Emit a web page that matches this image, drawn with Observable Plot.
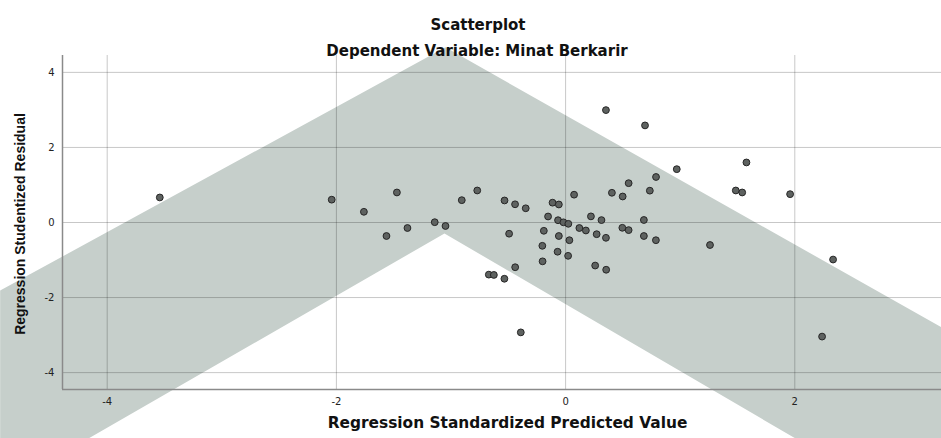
<!DOCTYPE html>
<html>
<head>
<meta charset="utf-8">
<script src="https://cdn.jsdelivr.net/npm/d3@7"></script>
<script src="https://cdn.jsdelivr.net/npm/@observablehq/plot@0.6"></script>
<style>
  html, body { margin: 0; padding: 0; background: #fff; }
  #chart { width: 941px; height: 438px; overflow: hidden; }
</style>
</head>
<body>
<div id="chart"></div>
<script>
// ---- data ----
const titleText = "Scatterplot";
const subtitleText = "Dependent Variable: Minat Berkarir";
const xLabel = "Regression Standardized Predicted Value";
const yLabel = "Regression Studentized Residual";

const xDomain = [-4.39, 3.28];
const yDomain = [-4.45, 4.45];
const xTicks = [-4, -2, 0, 2];
const yTicks = [-4, -2, 0, 2, 4];

// Regression Standardized Predicted Value
const predicted = [
  -3.541, -2.041, -1.760, -1.472, -1.563, -1.380, -1.142, -1.048, -0.906, -0.771,
  -0.533, -0.441, -0.348, -0.114, -0.059, 0.074, -0.153, -0.066, -0.019, 0.024,
  0.120, 0.177, -0.190, -0.493, -0.059, 0.033, -0.203, -0.070, 0.022, -0.201,
  -0.440, -0.670, -0.626, -0.534, 0.352, 0.693, 1.578, 0.970, 0.789, 0.550,
  0.735, 0.404, 0.498, 1.485, 1.541, 1.959, 0.221, 0.313, 0.683, 0.495,
  0.550, 0.271, 0.352, 0.683, 0.788, 0.258, 0.354, 1.260, -0.391, 2.334,
  2.238
];
// Regression Studentized Residual
const residual = [
  0.667, 0.608, 0.285, 0.800, -0.360, -0.147, 0.008, -0.093, 0.595, 0.853,
  0.587, 0.485, 0.379, 0.528, 0.480, 0.741, 0.160, 0.061, 0.005, -0.035,
  -0.147, -0.213, -0.221, -0.299, -0.360, -0.472, -0.621, -0.779, -0.888, -1.035,
  -1.192, -1.389, -1.397, -1.499, 2.995, 2.587, 1.600, 1.421, 1.213, 1.048,
  0.848, 0.792, 0.693, 0.853, 0.800, 0.755, 0.163, 0.064, 0.067, -0.141,
  -0.203, -0.312, -0.408, -0.360, -0.472, -1.147, -1.259, -0.600, -2.928, -0.987,
  -3.040
];

// grey chevron-shaped band behind the plot (in data units)
const bandX = [-4.934, -1.048, 3.284, 3.284, 2.009, -1.057, -4.166, -4.934];
const bandY = [-1.813, 4.667, -2.800, -5.760, -5.760, -0.293, -5.760, -5.760];

// ---- tables ----
const points = predicted.map((x, i) => ({x, y: residual[i]}));
const band = bandX.map((x, i) => ({x, y: bandY[i]}));

const bandColor = "#c6cfcb";
const fmt = d => String(d);

const chart = Plot.plot({
  width: 941,
  height: 438,
  marginLeft: 62,
  marginRight: 0,
  marginTop: 55,
  marginBottom: 49,
  x: {domain: xDomain},
  y: {domain: yDomain},
  style: {background: "#fff", fontFamily: "DejaVu Sans", overflow: "visible"},
  marks: [
    Plot.line(band, {x: "x", y: "y", fill: bandColor, stroke: "none", curve: "linear-closed"}),
    Plot.gridX(xTicks, {stroke: "#000", strokeOpacity: 0.22, strokeWidth: 1}),
    Plot.gridY(yTicks, {stroke: "#000", strokeOpacity: 0.22, strokeWidth: 1}),
    Plot.ruleX([xDomain[0]], {stroke: "#8a8a8a", strokeWidth: 1.5}),
    Plot.ruleY([yDomain[0]], {stroke: "#8a8a8a", strokeWidth: 1.5}),
    Plot.axisX(xTicks, {tickSize: 0, tickPadding: 8, fontSize: 10, fill: "#222", label: null, tickFormat: fmt}),
    Plot.axisY(yTicks, {tickSize: 0, tickPadding: 8, fontSize: 10, fill: "#222", label: null, tickFormat: fmt}),
    Plot.dot(points, {x: "x", y: "y", r: 3.4, fill: "#5e6260", stroke: "#262626", strokeWidth: 1}),
    Plot.text([titleText], {text: d => d, frameAnchor: "top", dx: -24, dy: -36.5,
      fontSize: 15, fontWeight: "bold", fill: "#111"}),
    Plot.text([subtitleText], {text: d => d, frameAnchor: "top", dx: -25, dy: -10.5,
      fontSize: 15, fontWeight: "bold", fill: "#111"}),
    Plot.text([xLabel], {text: d => d, frameAnchor: "bottom", dx: 5.5, dy: 38,
      fontSize: 15.4, fontWeight: "bold", fill: "#111"}),
    Plot.text([yLabel], {text: d => d, frameAnchor: "left", textAnchor: "middle", dx: -42, dy: 1.5, rotate: -90,
      fontSize: 14, fontWeight: "bold", fill: "#111", fontFamily: "Liberation Sans"})
  ]
});

document.getElementById("chart").appendChild(chart);
</script>
</body>
</html>
